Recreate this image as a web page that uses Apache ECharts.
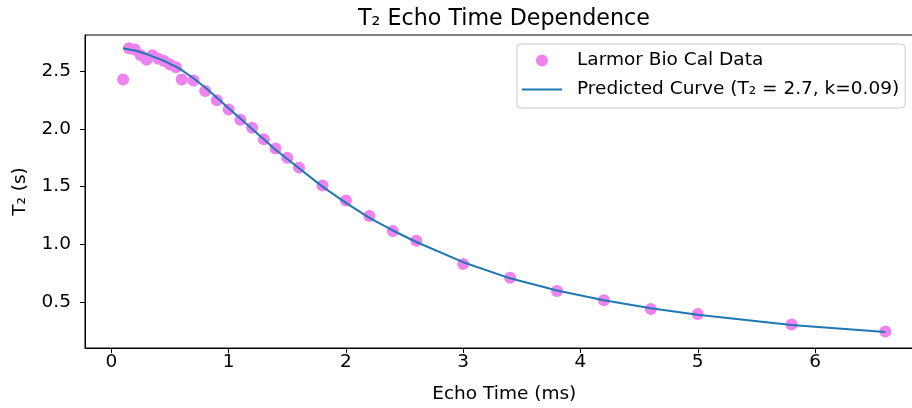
<!DOCTYPE html>
<html>
<head>
<meta charset="utf-8">
<script src="https://cdn.jsdelivr.net/npm/echarts@6/dist/echarts.min.js"></script>
<style>html,body{margin:0;padding:0;background:#fff;}#c{width:912px;height:408px;}</style>
</head>
<body>
<div id="c"></div>
<script>
// Echo times (ms)
var echoTimes = [0.1,0.15,0.2,0.25,0.3,0.35,0.4,0.45,0.5,0.55,0.6,0.7,0.8,0.9,1.0,1.1,1.2,1.3,1.4,1.5,1.6,1.8,2.0,2.2,2.4,2.6,3.0,3.4,3.8,4.2,4.6,5.0,5.8,6.6];
// Measured T2 (s)
var measuredT2 = [2.43,2.70,2.69,2.64,2.60,2.64,2.61,2.59,2.56,2.535,2.43,2.42,2.33,2.25,2.17,2.08,2.01,1.91,1.83,1.75,1.665,1.51,1.38,1.245,1.115,1.03,0.83,0.71,0.595,0.515,0.44,0.395,0.305,0.245];
// Predicted curve (s)
var predictedT2 = [2.70,2.69,2.68,2.665,2.65,2.63,2.61,2.59,2.565,2.54,2.51,2.44,2.36,2.27,2.18,2.09,2.00,1.91,1.82,1.74,1.66,1.50,1.36,1.23,1.12,1.02,0.845,0.705,0.60,0.515,0.445,0.39,0.30,0.24];
var xTicks = [0,1,2,3,4,5,6];
var yTicks = [0.5,1.0,1.5,2.0,2.5];

var font = 'DejaVu Sans';
var fs = 18.5;
var chart = echarts.init(document.getElementById('c'), null, {renderer: 'canvas'});
var scatterData = echoTimes.map(function(x, i){ return [x, measuredT2[i]]; });
var lineData = echoTimes.map(function(x, i){ return [x, predictedT2[i]]; });

chart.setOption({
  animation: false,
  backgroundColor: '#fff',
  title: {
    text: 'T₂ Echo Time Dependence',
    left: 353, top: 3,
    textStyle: {fontFamily: font, fontSize: 22.2, fontWeight: 'normal', color: '#000'}
  },
  legend: {
    orient: 'vertical',
    left: 517, top: 44,
    padding: [7, 6, 9, 5],
    itemWidth: 40, itemHeight: 12, itemGap: 10,
    symbolKeepAspect: true,
    borderColor: '#cccccc', borderWidth: 1, borderRadius: 4,
    backgroundColor: 'rgba(255,255,255,0.8)',
    textStyle: {fontFamily: font, fontSize: fs, color: '#000', padding: [0, 0, 0, 10]},
    data: [
      {name: 'Larmor Bio Cal Data', icon: 'circle'},
      {name: 'Predicted Curve (T₂ = 2.7, k=0.09)', icon: 'path://M0,0L40,0L40,2L0,2Z'}
    ]
  },
  grid: {
    left: 85, top: 35, width: 838.5, height: 313,
    outerBoundsMode: 'none',
    show: true, borderColor: '#000', borderWidth: 1, containLabel: false
  },
  xAxis: {
    type: 'value', min: -0.225, max: 6.925,
    name: 'Echo Time (ms)', nameLocation: 'middle', nameGap: 37,
    nameTextStyle: {fontFamily: font, fontSize: fs, color: '#000'},
    axisLine: {show: true, onZero: false, lineStyle: {color: '#000', width: 1}},
    axisTick: {show: true, length: 5, inside: false, customValues: xTicks, lineStyle: {color: '#000'}},
    axisLabel: {customValues: xTicks, margin: 5, fontFamily: font, fontSize: fs, color: '#000',
      formatter: function(v){ return String(v); }},
    splitLine: {show: false}
  },
  yAxis: {
    type: 'value', min: 0.101, max: 2.815,
    name: 'T₂ (s)', nameLocation: 'middle', nameGap: 55, nameRotate: 90,
    nameTextStyle: {fontFamily: font, fontSize: fs, color: '#000'},
    axisLine: {show: true, onZero: false, lineStyle: {color: '#000', width: 1}},
    axisTick: {show: true, length: 5, inside: false, customValues: yTicks, lineStyle: {color: '#000'}},
    axisLabel: {customValues: yTicks, margin: 14, fontFamily: font, fontSize: fs, color: '#000',
      formatter: function(v){ return v.toFixed(1); }},
    splitLine: {show: false}
  },
  series: [
    {
      name: 'Larmor Bio Cal Data', type: 'scatter', data: scatterData,
      symbol: 'circle', symbolSize: 12,
      itemStyle: {color: '#ee82ee', opacity: 1}, z: 2
    },
    {
      name: 'Predicted Curve (T₂ = 2.7, k=0.09)', type: 'line', data: lineData,
      showSymbol: false, symbol: 'none', smooth: false,
      lineStyle: {color: '#1f77b4', width: 2}, itemStyle: {color: '#1f77b4'}, z: 3
    }
  ]
});
</script>
</body>
</html>
